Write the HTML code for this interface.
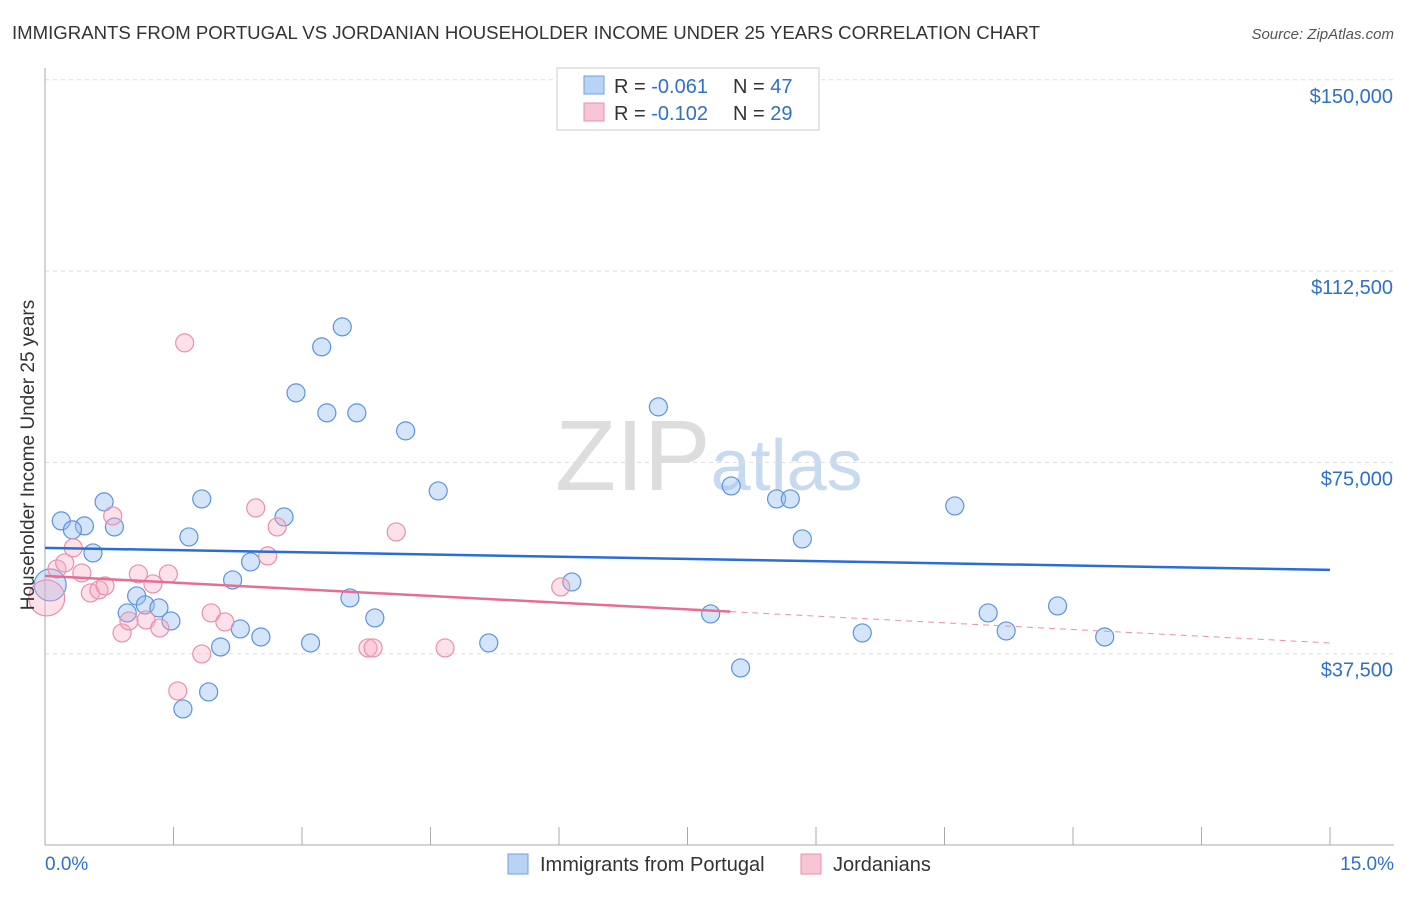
<!DOCTYPE html>
<html><head><meta charset="utf-8">
<style>
body{margin:0;background:#fff;font-family:"Liberation Sans",sans-serif;}
svg text{font-family:"Liberation Sans",sans-serif;}
</style></head>
<body>
<svg id="chart" width="1406" height="892" viewBox="0 0 1406 892">
<text x="12" y="39" font-size="18" fill="#333" textLength="1028" lengthAdjust="spacingAndGlyphs">IMMIGRANTS FROM PORTUGAL VS JORDANIAN HOUSEHOLDER INCOME UNDER 25 YEARS CORRELATION CHART</text>
<text x="1394" y="39" font-size="15" fill="#555" font-style="italic" text-anchor="end">Source: ZipAtlas.com</text>
<text x="555" y="490" font-size="100" fill="#ddd" font-family="Liberation Serif">ZIP<tspan fill="#c8daf0" font-family="Liberation Sans" font-size="72">atlas</tspan></text>
<g id="grid"></g>
<g id="axes"></g>
<g id="marks"></g>
<text transform="translate(34,455) rotate(-90)" font-size="19" fill="#333" text-anchor="middle">Householder Income Under 25 years</text>
<g>
<rect x="557" y="68" width="262" height="62" fill="#fff" stroke="#ccc"/>
<rect x="584" y="76" width="20" height="18" fill="#b9d3f5" stroke="#6fa0e0"/>
<text x="614" y="93" font-size="20" fill="#333">R = <tspan fill="#2e6fd0">-0.061</tspan></text>
<text x="733" y="93" font-size="20" fill="#333">N = <tspan fill="#2e6fd0">47</tspan></text>
<rect x="584" y="103" width="20" height="18" fill="#f8c5d4" stroke="#e890ab"/>
<text x="614" y="120" font-size="20" fill="#333">R = <tspan fill="#2e6fd0">-0.102</tspan></text>
<text x="733" y="120" font-size="20" fill="#333">N = <tspan fill="#2e6fd0">29</tspan></text>
</g>
<g>
<rect x="508" y="854" width="20" height="20" fill="#b9d3f5" stroke="#6fa0e0"/>
<text x="540" y="871" font-size="20" fill="#333">Immigrants from Portugal</text>
<rect x="801" y="854" width="20" height="20" fill="#f8c5d4" stroke="#e890ab"/>
<text x="833" y="871" font-size="20" fill="#333">Jordanians</text>
</g>
</svg>
<script>
const yTicks=[37500,75000,112500,150000];
const yTickLabels=["$37,500","$75,000","$112,500","$150,000"];
const xEndLabels=["0.0%","15.0%"];
const blueX=[0.19,0.46,0.32,0.69,0.81,0.56,0.06,0.96,1.07,1.17,1.33,1.47,1.61,1.68,1.83,1.91,2.05,2.19,2.28,2.40,2.52,2.79,2.93,3.10,3.23,3.29,3.47,3.56,3.64,3.85,4.21,4.59,5.18,6.15,7.16,7.77,8.01,8.12,8.54,8.70,8.84,9.54,10.62,11.01,11.22,11.82,12.37];
const blueY=[63530,62550,61770,67260,62350,57250,50980,45490,48820,47060,46470,43920,26670,60390,67840,30000,38820,51960,42350,55490,40780,64310,88630,39610,97650,84710,101570,48430,84710,44510,81180,69410,39610,51570,85880,45290,70390,34710,67840,67840,60000,41570,66470,45490,41960,46860,40780];
const blueR=[9,9,9,9,9,9,16,9,9,9,9,9,9,9,9,9,9,9,9,9,9,9,9,9,9,9,9,9,9,9,9,9,9,9,9,9,9,9,9,9,9,9,9,9,9,9,9];
const pinkX=[0.02,0.14,0.23,0.33,0.43,0.53,0.63,0.70,0.79,0.90,0.98,1.09,1.18,1.26,1.34,1.44,1.63,1.55,1.83,1.94,2.10,2.46,2.60,2.71,3.77,3.83,4.10,4.67,6.02];
const pinkY=[48430,54120,55290,58240,53330,49410,50000,50780,64510,41570,43920,53140,44120,51180,42550,53140,98430,30200,37450,45490,43730,66080,56670,62350,38630,38630,61370,38630,50590];
const pinkR=[18,9,9,9,9,9,9,9,9,9,9,9,9,9,9,9,9,9,9,9,9,9,9,9,9,9,9,9,9];
const blueTrend=[58240,53920];
const pinkTrend=[52750,39610];
const pinkSolidEnd=8.0;

const X0=45,X1=1330,XMAX=15,YB=845,YPX=191.3/37500;
const sx=v=>X0+(X1-X0)*v/XMAX;
const sy=v=>YB-v*YPX;
const NS="http://www.w3.org/2000/svg";
function mk(tag,attrs,parent){const e=document.createElementNS(NS,tag);for(const k in attrs)e.setAttribute(k,attrs[k]);parent.appendChild(e);return e;}
const grid=document.getElementById('grid'),axes=document.getElementById('axes'),marks=document.getElementById('marks');
yTicks.forEach((t,i)=>{
 const l=mk('line',{x1:X0,x2:1394,y1:sy(t),y2:sy(t),stroke:'#ddd','stroke-dasharray':'4,4'},grid);
 
 
 const tx=mk('text',{x:1393,y:sy(t)+23,'font-size':20,fill:'#2e6fd0','text-anchor':'end'},axes);
 tx.textContent=yTickLabels[i];
 
 
});
const ya=mk('line',{x1:X0,x2:X0,y1:68,y2:YB,stroke:'#aaa'},axes);


const xa=mk('line',{x1:X0,x2:1394,y1:YB,y2:YB,stroke:'#aaa'},axes);


for(let i=0;i<=10;i++){const v=i*1.5;const tk=mk('line',{x1:sx(v),x2:sx(v),y1:YB,y2:YB-18,stroke:'#aaa'},axes);
 
 }
[[45,'start'],[1394,'end']].forEach((p,i)=>{const t=mk('text',{x:p[0],y:870,'font-size':19,fill:'#2e6fd0','text-anchor':p[1]},axes);t.textContent=xEndLabels[i];
 
 });
blueX.forEach((x,i)=>{const c=mk('circle',{cx:sx(x),cy:sy(blueY[i]),r:blueR[i],fill:'rgba(150,190,240,0.4)',stroke:'#5b93dd','stroke-width':1.2},marks);
 
 });
pinkX.forEach((x,i)=>{const c=mk('circle',{cx:sx(x),cy:sy(pinkY[i]),r:pinkR[i],fill:'rgba(245,170,195,0.35)',stroke:'#e890ab','stroke-width':1.2},marks);
 
 });
const bt=mk('line',{x1:sx(0),y1:sy(blueTrend[0]),x2:sx(15),y2:sy(blueTrend[1]),stroke:'#2a6dd4','stroke-width':2.5},marks);


const pAt=v=>pinkTrend[0]+(pinkTrend[1]-pinkTrend[0])*v/15;
const pt=mk('line',{x1:sx(0),y1:sy(pinkTrend[0]),x2:sx(pinkSolidEnd),y2:sy(pAt(pinkSolidEnd)),stroke:'#e66d96','stroke-width':2.5},marks);


const pd=mk('line',{x1:sx(pinkSolidEnd),y1:sy(pAt(pinkSolidEnd)),x2:sx(15),y2:sy(pinkTrend[1]),stroke:'#e890ab','stroke-width':1,'stroke-dasharray':'6,5'},marks);


</script>
</body></html>
